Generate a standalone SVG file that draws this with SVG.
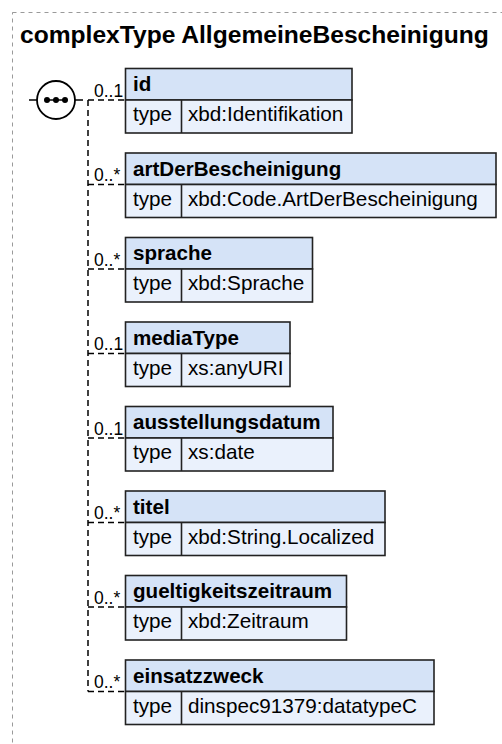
<svg xmlns="http://www.w3.org/2000/svg" width="502" height="744" viewBox="0 0 502 744">
<style>
.frame{fill:#fff;stroke:#9a9a9a;stroke-width:1;stroke-dasharray:4,4}
.title{font-family:"Liberation Sans",Arial,sans-serif;font-weight:bold;font-size:24.6px;fill:#000}
.hd{fill:#d5e3f7;stroke:#222;stroke-width:1.6}
.bd{fill:#eaf1fc;stroke:#222;stroke-width:1.6}
.dv{stroke:#222;stroke-width:1.6}
.nm{font-family:"Liberation Sans",Arial,sans-serif;font-weight:bold;font-size:20.6px;fill:#000}
.tx{font-family:"Liberation Sans",Arial,sans-serif;font-size:20.7px;fill:#000}
.mul{font-family:"Liberation Sans",Arial,sans-serif;font-size:17.5px;fill:#000}
.con{fill:none;stroke:#000;stroke-width:1.5;stroke-dasharray:6,4}
.sol{fill:none;stroke:#000;stroke-width:1.5}
</style>
<rect class="frame" x="12.5" y="12.5" width="500" height="745"/>
<text class="title" x="20" y="43">complexType AllgemeineBescheinigung</text>

<g id="sequence">
<line class="sol" x1="29" y1="100" x2="37" y2="100"/>
<circle cx="56" cy="100" r="19" fill="#fff" stroke="#000" stroke-width="1.8"/>
<line class="sol" x1="75" y1="100" x2="83" y2="100"/>
<line x1="46" y1="100" x2="66" y2="100" stroke="#000" stroke-width="1.5"/>
<circle cx="47" cy="100" r="3" fill="#000"/>
<circle cx="56" cy="100" r="3" fill="#000"/>
<circle cx="65" cy="100" r="3" fill="#000"/>
</g>

<g id="connectors">
<path class="con" d="M88 100 V691.5"/>
<path class="con" d="M88 100 H125.5"/>
<path class="con" d="M88 184.5 H125.5"/>
<path class="con" d="M88 269 H125.5"/>
<path class="con" d="M88 353.5 H125.5"/>
<path class="con" d="M88 438 H125.5"/>
<path class="con" d="M88 522.5 H125.5"/>
<path class="con" d="M88 607 H125.5"/>
<path class="con" d="M88 691.5 H125.5"/>
<text class="mul" x="94" y="96.5">0..1</text>
<text class="mul" x="94" y="181">0..*</text>
<text class="mul" x="94" y="265.5">0..*</text>
<text class="mul" x="94" y="350">0..1</text>
<text class="mul" x="94" y="434.5">0..1</text>
<text class="mul" x="94" y="519">0..*</text>
<text class="mul" x="94" y="603.5">0..*</text>
<text class="mul" x="94" y="688">0..*</text>
</g>

<g id="id">
<rect class="hd" x="125.5" y="68.5" width="226.5" height="31.5"/>
<rect class="bd" x="125.5" y="100" width="226.5" height="33"/>
<line class="dv" x1="181.5" y1="100" x2="181.5" y2="133"/>
<text class="nm" x="133" y="91">id</text>
<text class="tx" x="133" y="121">type</text>
<text class="tx" x="188" y="121">xbd:Identifikation</text>
</g>

<g id="artDerBescheinigung">
<rect class="hd" x="125.5" y="153" width="370.5" height="31.5"/>
<rect class="bd" x="125.5" y="184.5" width="370.5" height="33"/>
<line class="dv" x1="181.5" y1="184.5" x2="181.5" y2="217.5"/>
<text class="nm" x="133" y="175.5">artDerBescheinigung</text>
<text class="tx" x="133" y="205.5">type</text>
<text class="tx" x="188" y="205.5">xbd:Code.ArtDerBescheinigung</text>
</g>

<g id="sprache">
<rect class="hd" x="125.5" y="237.5" width="187" height="31.5"/>
<rect class="bd" x="125.5" y="269" width="187" height="33"/>
<line class="dv" x1="181.5" y1="269" x2="181.5" y2="302"/>
<text class="nm" x="133" y="260">sprache</text>
<text class="tx" x="133" y="290">type</text>
<text class="tx" x="188" y="290">xbd:Sprache</text>
</g>

<g id="mediaType">
<rect class="hd" x="125.5" y="322" width="164.5" height="31.5"/>
<rect class="bd" x="125.5" y="353.5" width="164.5" height="33"/>
<line class="dv" x1="181.5" y1="353.5" x2="181.5" y2="386.5"/>
<text class="nm" x="133" y="344.5">mediaType</text>
<text class="tx" x="133" y="374.5">type</text>
<text class="tx" x="188" y="374.5">xs:anyURI</text>
</g>

<g id="ausstellungsdatum">
<rect class="hd" x="125.5" y="406.5" width="207.5" height="31.5"/>
<rect class="bd" x="125.5" y="438" width="207.5" height="33"/>
<line class="dv" x1="181.5" y1="438" x2="181.5" y2="471"/>
<text class="nm" x="133" y="429">ausstellungsdatum</text>
<text class="tx" x="133" y="459">type</text>
<text class="tx" x="188" y="459">xs:date</text>
</g>

<g id="titel">
<rect class="hd" x="125.5" y="491" width="259.5" height="31.5"/>
<rect class="bd" x="125.5" y="522.5" width="259.5" height="33"/>
<line class="dv" x1="181.5" y1="522.5" x2="181.5" y2="555.5"/>
<text class="nm" x="133" y="513.5">titel</text>
<text class="tx" x="133" y="543.5">type</text>
<text class="tx" x="188" y="543.5">xbd:String.Localized</text>
</g>

<g id="gueltigkeitszeitraum">
<rect class="hd" x="125.5" y="575.5" width="221" height="31.5"/>
<rect class="bd" x="125.5" y="607" width="221" height="33"/>
<line class="dv" x1="181.5" y1="607" x2="181.5" y2="640"/>
<text class="nm" x="133" y="598">gueltigkeitszeitraum</text>
<text class="tx" x="133" y="628">type</text>
<text class="tx" x="188" y="628">xbd:Zeitraum</text>
</g>

<g id="einsatzzweck">
<rect class="hd" x="125.5" y="660" width="308.5" height="31.5"/>
<rect class="bd" x="125.5" y="691.5" width="308.5" height="33"/>
<line class="dv" x1="181.5" y1="691.5" x2="181.5" y2="724.5"/>
<text class="nm" x="133" y="682.5">einsatzzweck</text>
<text class="tx" x="133" y="712.5">type</text>
<text class="tx" x="188" y="712.5">dinspec91379:datatypeC</text>
</g>
</svg>
